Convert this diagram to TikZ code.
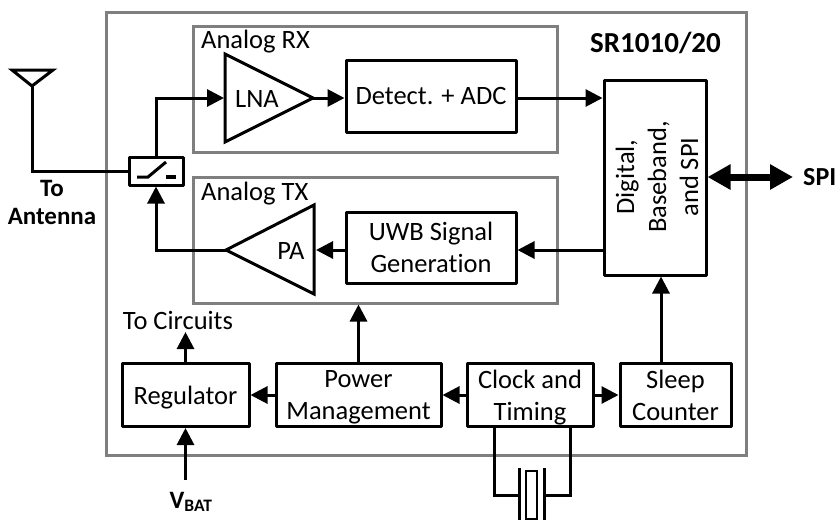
\documentclass[tikz,border=0pt]{standalone}
\usepackage{fontspec}
\setmainfont[Ligatures=NoCommon]{Carlito}
\usetikzlibrary{arrows.meta,calc}
\definecolor{grp}{HTML}{7F7F7F}
\tikzset{
  blk/.style={draw=black,line width=3pt,fill=white,inner sep=0pt,align=center,font=\fontsize{26.5}{32}\selectfont,line join=round},
  grpbox/.style={draw=grp,line width=3pt},
  wire/.style={draw=black,line width=3pt,line join=miter},
  arr/.style={wire,-{Triangle[length=17pt,width=17pt]}},
  fat/.style={draw=black,line width=7pt,{Triangle[length=23pt,width=24pt]}-{Triangle[length=23pt,width=24pt]}},
  lbl/.style={inner sep=0pt,align=center,font=\fontsize{26.5}{32}\selectfont},
  blbl/.style={inner sep=0pt,align=center,font=\fontsize{25}{28}\selectfont\bfseries},
}
\begin{document}
\begin{tikzpicture}[x=1pt,y=-1pt]
\useasboundingbox (0,0) rectangle (837,520);
% groups
\draw[grpbox] (106,12) rectangle (746,455);
\draw[grpbox] (193,26) rectangle (557,152);
\draw[grpbox] (193,177) rectangle (557,303);
\node[lbl,anchor=west] (rxl) at (201,42) {Analog RX};
\node[lbl,anchor=west] (txl) at (201,194) {Analog TX};
\node[blbl,font=\fontsize{29}{32}\selectfont\bfseries] (title) at (655.5,43) {SR1010/20};
% triangles
\draw[wire,fill=white] (225,54) -- (313,98) coordinate (lnaTip) -- (225,142) -- cycle;
\coordinate (lnaIn) at (224,98);
\node[lbl] (lna) at (257,99) {LNA};
\draw[wire,fill=white] (314,205) -- (226,250) coordinate (paTip) -- (314,294) -- cycle;
\coordinate (paIn) at (316,250);
\node[lbl] (pa) at (291,251) {PA};
% blocks
\node[blk,minimum width=170pt,minimum height=72pt,text depth=-3pt] (det) at (431,96) {Detect. + ADC};
\node[blk,minimum width=170pt,minimum height=71pt,text depth=-3pt] (uwb) at (431,247.5) {UWB Signal\\Generation};
\node[blk,minimum width=102pt,minimum height=195pt] (dig) at (655,177.5) {};
\node[lbl,rotate=90] (digt) at (657,177) {Digital,\\Baseband,\\and SPI};
\node[blk,minimum width=127pt,minimum height=63pt,text depth=0pt] (reg) at (185.5,395) {Regulator};
\node[blk,minimum width=165pt,minimum height=63pt,text depth=0pt] (pm) at (358.5,395) {Power\\Management};
\node[blk,minimum width=126pt,minimum height=63pt,text depth=0pt] (clk) at (530,395) {Clock and\\Timing};
\node[blk,minimum width=111pt,minimum height=63pt] (slp) at (675.5,395) {Sleep\\Counter};
% switch
\node[blk,minimum width=54pt,minimum height=28pt] (sw) at (156,171) {};
\draw[wire] ($(sw.center)+(-19,6)$) -- ++(11,0) -- ++(18,-15);
\draw[wire,line width=4pt] ($(sw.center)+(10,6)$) -- ++(10,0);
% antenna
\coordinate (antTop) at (32,86);
\draw[wire] (12,70) -- (53,70) -- (antTop) -- cycle;
\draw[wire] (antTop) -- (antTop |- sw.west) -- (sw.west);
\node[blbl] (toant) at (52,202) {To\\Antenna};
% connectors
\draw[arr] (sw.north) |- (lnaIn);
\draw[arr] (paTip) -| (sw.south);
\draw[arr] (lnaTip) -- (det.west |- lnaTip);
\draw[arr] (det.east |- lnaTip) -- (dig.west |- lnaTip);
\draw[arr] (dig.west |- paTip) -- (uwb.east |- paTip);
\draw[arr] (uwb.west |- paTip) -- (paIn);
\coordinate (txBot) at (358.5,304.5);
\draw[arr] (pm.north) -- (txBot);
\draw[arr] (pm.west) -- (reg.east);
\draw[arr] (clk.west) -- (pm.east);
\draw[arr] (clk.east) -- (slp.west);
\draw[arr] (661,0 |- slp.north) -- (661,0 |- dig.south);
\node[lbl] (circ) at (178,320) {To Circuits};
\coordinate (circA) at (185.5,332);
\draw[arr] (reg.north) -- (circA);
\coordinate (vbatS) at (185.5,480);
\draw[arr] (vbatS) -- (reg.south);
\node[blbl] (vbat) at (191,502) {V\textsubscript{BAT}};
\coordinate (spiE) at (793,177);
\draw[fat] (dig.east |- spiE) -- (spiE);
\node[blbl,anchor=west,font=\fontsize{26}{28}\selectfont\bfseries] (spi) at (803,177) {SPI};
% crystal
\coordinate (xl) at (519,495);
\coordinate (xr) at (544,495);
\draw[wire] (494,0 |- clk.south) |- (xl);
\draw[wire] (570,0 |- clk.south) |- (xr);
\draw[wire] (519,468) -- (519,520);
\draw[wire] (544,468) -- (544,520);
\draw[draw=black,line width=1.2pt,fill=white] (526,471) rectangle (537,519);
\end{tikzpicture}
\end{document}
